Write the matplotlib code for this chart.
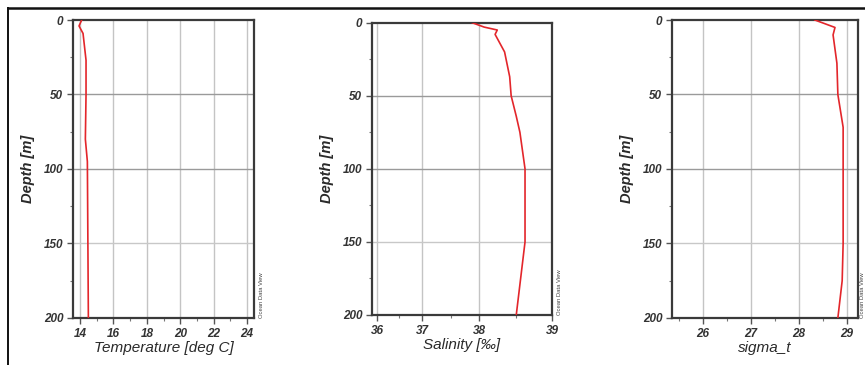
import numpy as np
import matplotlib
matplotlib.use("Agg")
import matplotlib.pyplot as plt
from matplotlib.ticker import MultipleLocator, FixedLocator

plt.rcParams['font.family'] = ['Liberation Sans', 'DejaVu Sans']

# depth profiles
temp_depth = [0, 4, 9, 27, 50, 80, 95, 200]
temp_vals = [14.10, 13.94, 14.18, 14.36, 14.36, 14.32, 14.44, 14.50]

sal_depth = [0, 3, 5, 8, 20, 37, 50, 64, 75, 100, 150, 200]
sal_vals = [37.88, 38.07, 38.25, 38.22, 38.35, 38.42, 38.44, 38.51, 38.56, 38.63, 38.63, 38.51]

sig_depth = [0, 5, 10, 29, 50, 72, 100, 150, 175, 200]
sig_vals = [28.33, 28.75, 28.71, 28.79, 28.81, 28.92, 28.92, 28.92, 28.90, 28.81]

temp_ticks = [14, 16, 18, 20, 22, 24]
sal_ticks = [36, 37, 38, 39]
sig_ticks = [26, 27, 28, 29]
depth_ticks = [0, 50, 100, 150, 200]

# salinity axis in the picture is not evenly spaced
sal_knots = [35, 36, 37, 38, 39, 40]
sal_pix = [332, 377, 422, 479, 552, 624]

def sal_fwd(x):
    return np.interp(x, sal_knots, sal_pix)

def sal_inv(p):
    return np.interp(p, sal_pix, sal_knots)

fig = plt.figure(figsize=(8.65, 3.65), dpi=100)

panels = [
    ([0.0844, 0.1288, 0.2093, 0.8164], temp_vals, temp_depth, (13.58, 24.42), temp_ticks, 1, "Temperature [deg C]", 1.04),
    ([0.4301, 0.137, 0.2081, 0.8008], sal_vals, sal_depth, (35.89, 39.0), sal_ticks, 0.5, "Salinity [‰]", 1.04),
    ([0.7769, 0.1288, 0.2150, 0.8164], sig_vals, sig_depth, (25.35, 29.23), sig_ticks, 0.5, "sigma_t", 1.025),
]

for i, (rect, vals, depth, xlim, xt, minor, xlabel, odv_x) in enumerate(panels):
    ax = fig.add_axes(rect)
    if i == 1:
        ax.set_xscale('function', functions=(sal_fwd, sal_inv))
    ax.plot(vals, depth, color="#e3262b", lw=1.2, zorder=3)
    ax.set_xlim(*xlim)
    ax.set_ylim(200, 0)
    ax.xaxis.set_major_locator(FixedLocator(xt))
    ax.xaxis.set_minor_locator(MultipleLocator(minor))
    ax.yaxis.set_major_locator(FixedLocator(depth_ticks))
    ax.yaxis.set_minor_locator(MultipleLocator(25))
    for x in xt:
        ax.axvline(x, color="#c4c4c4", lw=1.0, zorder=1)
    for y in [50, 100, 150]:
        ax.axhline(y, color="#9a9a9a" if y < 150 else "#c8c8c8", lw=1.0, zorder=1)
    for s in ax.spines.values():
        s.set_linewidth(1.6)
        s.set_color("#3a3a3a")
    ax.tick_params(which='major', direction='out', length=4, width=1, color="#555555",
                   labelsize=8.5, pad=3, labelcolor="#333333")
    ax.tick_params(which='minor', direction='out', length=2.5, width=0.8, color="#777777")
    for lab in ax.get_xticklabels() + ax.get_yticklabels():
        lab.set_fontweight('bold')
        lab.set_fontstyle('italic')
    ax.set_xlabel(xlabel, fontsize=11, fontstyle='italic', color="#2a2a2a", labelpad=1)
    ax.set_ylabel("Depth [m]", fontsize=10.5, fontstyle='italic', fontweight='bold',
                  color="#2a2a2a", labelpad=6)
    ax.text(odv_x, 0.0, "Ocean Data View", transform=ax.transAxes, rotation=90,
            fontsize=4.2, color="#444444", ha='center', va='bottom')

# page frame lines from the screenshot
fig.add_artist(plt.Line2D([8 / 865, 1], [1 - 7.5 / 365, 1 - 7.5 / 365], color="#111111", lw=1.8))
fig.add_artist(plt.Line2D([8 / 865, 8 / 865], [0, 1 - 7.5 / 365], color="#111111", lw=1.4))

fig.savefig("out.png", dpi=100)
